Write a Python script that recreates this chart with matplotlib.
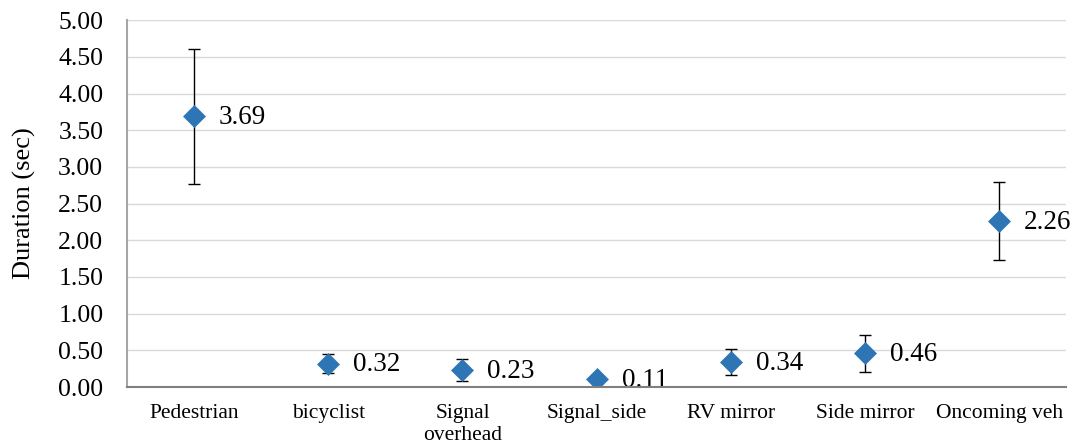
import matplotlib
matplotlib.use("Agg")
import matplotlib.pyplot as plt
from matplotlib.transforms import Bbox, TransformedBbox

categories = ["Pedestrian", "bicyclist", "Signal\noverhead", "Signal_side",
              "RV mirror", "Side mirror", "Oncoming veh"]
values = [3.69, 0.32, 0.23, 0.11, 0.34, 0.46, 2.26]
errors = [0.92, 0.13, 0.15, 0.05, 0.18, 0.25, 0.53]
yticks = [0.0, 0.5, 1.0, 1.5, 2.0, 2.5, 3.0, 3.5, 4.0, 4.5, 5.0]

plt.rcParams['font.family'] = ['Liberation Serif', 'DejaVu Serif']

fig = plt.figure(figsize=(10.76, 4.48), dpi=100)
ax = fig.add_axes([0.118, 0.136, 0.873, 0.819])

x = list(range(len(categories)))
ax.errorbar(x, values, yerr=errors, fmt='none', ecolor='black',
            elinewidth=1.0, capsize=4.5, capthick=1.0, zorder=2)
ax.scatter(x, values, marker='D', s=125, color='#2E75B6', zorder=3,
           edgecolors='#2E75B6', linewidths=0.5)

clipbox = TransformedBbox(Bbox.from_extents(-0.1, 0.0, 1.2, 1.2), ax.transAxes)
for xi, v in zip(x, values):
    t = ax.annotate(f"{v:.2f}", (xi, v), xytext=(18, -1), textcoords='offset points',
                    va='center', ha='left', fontsize=19.5)
    t.set_clip_box(clipbox)
    t.set_clip_on(True)

ax.set_xlim(-0.5, len(categories) - 0.5)
ax.set_ylim(0, 5)
ax.set_yticks(yticks)
ax.set_yticklabels([f"{t:.2f}" for t in yticks], fontsize=18.5)
ax.set_xticks(x)
ax.set_xticklabels(categories, fontsize=15.5, linespacing=1.2)
ax.tick_params(axis='both', length=0)
ax.tick_params(axis='x', pad=12)
ax.tick_params(axis='y', pad=17)
ax.set_ylabel("Duration (sec)", fontsize=19, labelpad=16)

ax.grid(axis='y', color='#D9D9D9', linewidth=1.0)
ax.set_axisbelow(True)
for s in ['top', 'right']:
    ax.spines[s].set_visible(False)
ax.spines['left'].set_color('#A6A6A6')
ax.spines['bottom'].set_color('#7F7F7F')
ax.spines['left'].set_linewidth(1.5)
ax.spines['bottom'].set_linewidth(1.5)
ax.spines['bottom'].set_zorder(4)

fig.savefig("out.png", dpi=100)
